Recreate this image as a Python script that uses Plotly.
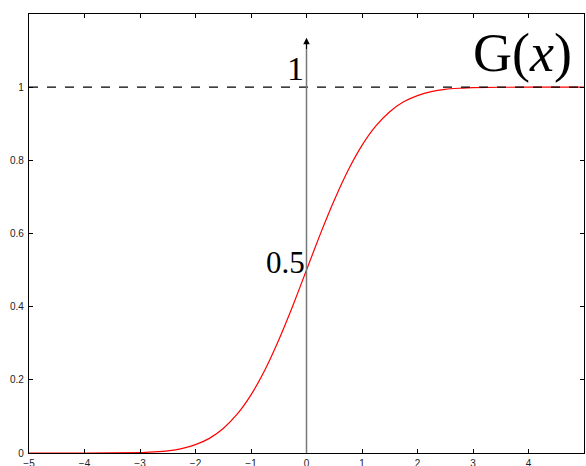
import plotly.graph_objects as go

# values
x_vals = [-5, -4, -3, -2.75, -2.5, -2.25, -2, -1.75, -1.5, -1.25, -1, -0.75, -0.5, -0.25,
          0, 0.25, 0.5, 0.75, 1, 1.25, 1.5, 1.75, 2, 2.25, 2.5, 2.75, 3, 4, 5]
g_vals = [0, 0, 0.001, 0.003, 0.006, 0.012, 0.023, 0.04, 0.067, 0.106, 0.159, 0.227, 0.309, 0.401,
          0.5, 0.599, 0.691, 0.773, 0.841, 0.894, 0.933, 0.96, 0.977, 0.988, 0.994, 0.997, 0.999, 1, 1]

x_ticks = [-5, -4, -3, -2, -1, 0, 1, 2, 3, 4, 5]
y_ticks = [0, 0.2, 0.4, 0.6, 0.8, 1]
y_tick_text = ["0", "0.2", "0.4", "0.6", "0.8", "1"]

fig = go.Figure()
fig.add_trace(go.Scatter(
    x=x_vals, y=g_vals, mode="lines",
    line=dict(color="red", width=1.2, shape="spline", smoothing=0.6),
    showlegend=False, hoverinfo="skip"
))

# dashed asymptote at 1 and the vertical axis arrow at x=0
fig.add_shape(type="line", x0=-5, x1=5, y0=1, y1=1, xref="x", yref="y",
              line=dict(color="black", width=1.2, dash="dash"))
fig.add_shape(type="line", x0=0, x1=0, y0=0, y1=1.12, xref="x", yref="y",
              line=dict(color="#777777", width=1.5))
fig.add_annotation(x=0, y=1.135, ax=0, ay=1.10, xref="x", yref="y", axref="x", ayref="y",
                   text="", showarrow=True, arrowhead=2, arrowsize=1.3, arrowwidth=1,
                   arrowcolor="black")

serif = "Liberation Serif"
fig.add_annotation(x=-0.01, y=1.05, xref="x", yref="y", text="1", showarrow=False,
                   xanchor="right", yanchor="middle", font=dict(family=serif, size=34, color="black"))
fig.add_annotation(x=0.01, y=0.52, xref="x", yref="y", text="0.5", showarrow=False,
                   xanchor="right", yanchor="middle", font=dict(family=serif, size=31, color="black"))
fig.add_annotation(x=4.82, y=1.093, xref="x", yref="y", text="G(<i>x</i>)", showarrow=False,
                   xanchor="right", yanchor="middle", font=dict(family=serif, size=54, color="black"))

axis_common = dict(
    showgrid=False, zeroline=False, showline=True, linecolor="black", linewidth=1.3,
    mirror="ticks", ticks="inside", ticklen=4, tickcolor="black", tickwidth=1,
    tickfont=dict(family="Liberation Sans", size=10, color="#222222"),
    automargin=False,
)
fig.update_xaxes(range=[-5, 5], tickvals=x_ticks, ticklabelstandoff=1, **axis_common)
fig.update_yaxes(range=[0, 1.2], tickvals=y_ticks, ticktext=y_tick_text, ticklabelstandoff=2,
                 **axis_common)

fig.update_layout(
    width=586, height=466, autosize=False,
    margin=dict(l=29, r=2, t=14, b=13, autoexpand=False),
    plot_bgcolor="white", paper_bgcolor="white",
)

fig.write_html("out.html", config={"displayModeBar": False},
               post_script="document.body.style.margin='0px';")
